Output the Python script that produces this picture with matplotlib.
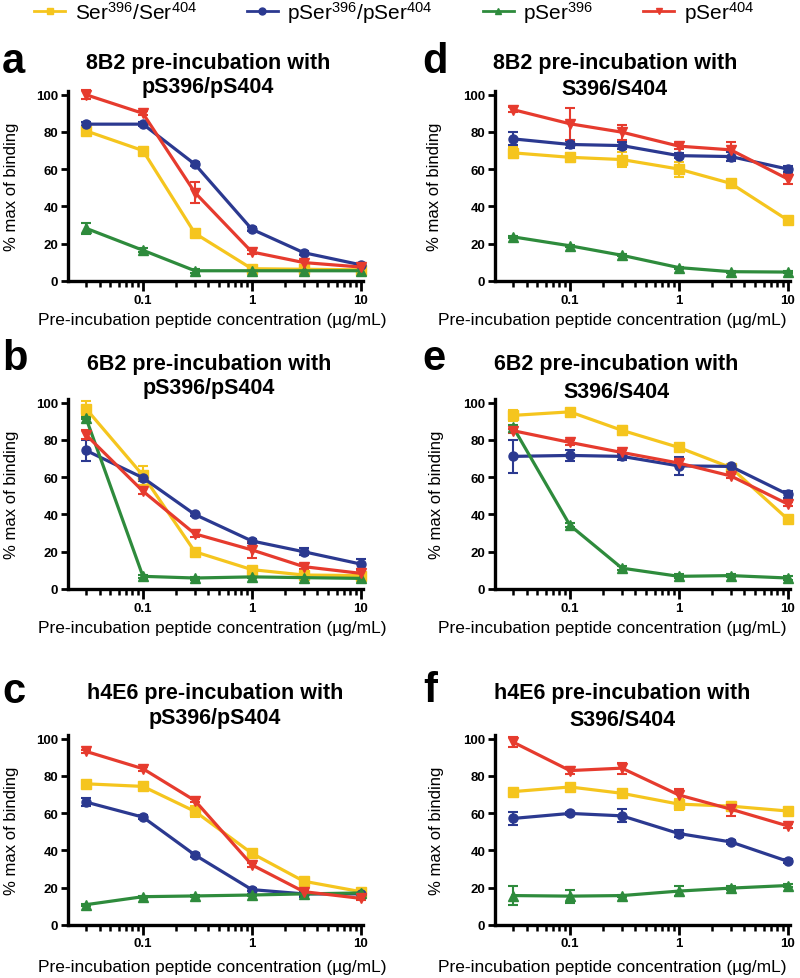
import matplotlib
matplotlib.use("Agg")
import matplotlib.pyplot as plt
from matplotlib.lines import Line2D
from matplotlib.ticker import LogLocator, FixedLocator, NullFormatter

plt.rcParams['font.family'] = ['Liberation Sans', 'DejaVu Sans']
plt.rcParams['mathtext.fontset'] = 'custom'
plt.rcParams['mathtext.rm'] = 'Liberation Sans'
plt.rcParams['mathtext.default'] = 'regular'

# peptide concentrations (ug/mL)
conc = [0.03, 0.1, 0.3, 1, 3, 10]

series_labels = ['Ser$^{396}$/Ser$^{404}$', 'pSer$^{396}$/pSer$^{404}$',
                 'pSer$^{396}$', 'pSer$^{404}$']
colors = ['#F5C51E', '#2B3990', '#2E8B3C', '#E63B2E']
markers = ['s', 'o', '^', 'v']

# a: 8B2 with pS396/pS404
a_ser = [80.6, 70.0, 25.6, 6.6, 6.3, 6.0]
a_ser_err = [1.5, 1.5, 1.5, 1, 1, 1]
a_pp = [84.2, 84.2, 62.7, 27.8, 15.2, 8.7]
a_pp_err = [1, 1, 1, 1, 1, 1]
a_p396 = [28.3, 16.5, 5.5, 5.5, 5.5, 5.5]
a_p396_err = [3, 1, 1, 1, 1, 1]
a_p404 = [100, 90, 47.5, 15.6, 9.9, 7.5]
a_p404_err = [2.5, 1, 5.5, 1, 1.5, 1]

# b: 6B2 with pS396/pS404
b_ser = [96.8, 61, 20, 10.4, 7.5, 7.2]
b_ser_err = [4, 5, 1, 1, 1, 1]
b_pp = [74.4, 59.7, 40, 25.8, 20, 13.4]
b_pp_err = [5.5, 1.5, 1, 1, 2, 2.5]
b_p396 = [91.8, 6.8, 5.9, 6.5, 6.1, 5.7]
b_p396_err = [0.8, 0.8, 0.8, 0.8, 0.8, 0.8]
b_p404 = [82.8, 52.5, 29.6, 21, 12, 8.4]
b_p404_err = [2.5, 1.5, 1.5, 4.5, 1.5, 1]

# c: h4E6 with pS396/pS404
c_ser = [75.8, 74.4, 61, 38.5, 23.5, 17.9]
c_ser_err = [1.5, 1.5, 3, 2, 1, 1]
c_pp = [66, 57.9, 37.6, 19, 16.7, 16.7]
c_pp_err = [2, 1, 1, 1, 1.5, 2]
c_p396 = [10.9, 15.2, 15.6, 16.1, 16.7, 17.2]
c_p396_err = [0.5, 0.5, 0.5, 0.5, 0.5, 0.5]
c_p404 = [93.2, 83.9, 66.8, 32.3, 17.9, 14.3]
c_p404_err = [1, 1, 1, 1, 1, 1]

# d: 8B2 with S396/S404
d_ser = [68.8, 66.4, 65.2, 60.1, 52.4, 32.7]
d_ser_err = [3, 2.5, 4, 4, 1.5, 1.5]
d_pp = [76.3, 73.3, 72.7, 67.3, 66.8, 60.1]
d_pp_err = [3.5, 2, 2, 1.5, 2.5, 1.5]
d_p396 = [23.7, 18.9, 13.8, 7.2, 5.0, 4.8]
d_p396_err = [0.5, 0.5, 0.5, 0.5, 0.5, 0.5]
d_p404 = [92, 84.4, 79.9, 72.4, 70.4, 54.8]
d_p404_err = [1.5, 8.5, 4, 1.5, 4, 2.5]

# e: 6B2 with S396/S404
e_ser = [93.2, 95.1, 85.2, 76, 65.2, 37.5]
e_ser_err = [3, 1.5, 2.5, 1.5, 1, 1.5]
e_pp = [71.2, 71.7, 71.2, 66.1, 65.8, 50.8]
e_pp_err = [9, 3, 2, 5, 1, 2]
e_p396 = [87, 34.2, 11.2, 6.8, 7.2, 5.9]
e_p396_err = [1, 1, 1, 1, 1, 1]
e_p404 = [85, 78.7, 73.3, 67.6, 60.7, 45.6]
e_p404_err = [1, 1.5, 1.5, 1.5, 1, 1]

# f: h4E6 with S396/S404
f_ser = [71.6, 74.1, 70.7, 64.9, 63.8, 61.2]
f_ser_err = [1, 1, 2, 3, 2, 1]
f_pp = [57.2, 59.9, 58.6, 49.1, 44.6, 34.2]
f_pp_err = [3.5, 1, 3.5, 2, 1, 1]
f_p396 = [15.8, 15.5, 15.8, 18.2, 19.8, 21.2]
f_p396_err = [5, 3.5, 0.5, 2.5, 1, 1]
f_p404 = [98.2, 82.9, 84.2, 69.8, 62.2, 53.2]
f_p404_err = [2.5, 2, 3, 3, 3.5, 1]

titles = {
    'a': ('8B2 pre-incubation with', 'pS396/pS404'),
    'b': ('6B2 pre-incubation with', 'pS396/pS404'),
    'c': ('h4E6 pre-incubation with', 'pS396/pS404'),
    'd': ('8B2 pre-incubation with', 'S396/S404'),
    'e': ('6B2 pre-incubation with', 'S396/S404'),
    'f': ('h4E6 pre-incubation with', 'S396/S404'),
}
panel_data = {
    'a': [(a_ser, a_ser_err), (a_pp, a_pp_err), (a_p396, a_p396_err), (a_p404, a_p404_err)],
    'b': [(b_ser, b_ser_err), (b_pp, b_pp_err), (b_p396, b_p396_err), (b_p404, b_p404_err)],
    'c': [(c_ser, c_ser_err), (c_pp, c_pp_err), (c_p396, c_p396_err), (c_p404, c_p404_err)],
    'd': [(d_ser, d_ser_err), (d_pp, d_pp_err), (d_p396, d_p396_err), (d_p404, d_p404_err)],
    'e': [(e_ser, e_ser_err), (e_pp, e_pp_err), (e_p396, e_p396_err), (e_p404, e_p404_err)],
    'f': [(f_ser, f_ser_err), (f_pp, f_pp_err), (f_p396, f_p396_err), (f_p404, f_p404_err)],
}

W, H = 800, 979
fig = plt.figure(figsize=(W / 100, H / 100), dpi=100)

# pixel layout of each panel
col_left = {'a': 68, 'b': 68, 'c': 68, 'd': 495, 'e': 495, 'f': 495}
row_bottom = {'a': 282, 'd': 282, 'b': 590, 'e': 590, 'c': 926, 'f': 926}
title_x = {'a': 208, 'b': 209, 'c': 215, 'd': 615, 'e': 616, 'f': 622}
title_base = {'a': (69, 93), 'd': (69, 95), 'b': (370, 394), 'e': (370, 398),
              'c': (699, 724), 'f': (699, 726)}
letter_pos = {'a': (2, 73), 'b': (2, 370), 'c': (2, 703),
              'd': (422, 73), 'e': (422, 370), 'f': (423, 702)}
xlabel_x = {'a': 212, 'b': 212, 'c': 212, 'd': 612, 'e': 612, 'f': 612}
xlabel_dy = {'a': 38, 'd': 38, 'b': 38, 'e': 38, 'c': 42, 'f': 42}
ylabel_x = {'a': 12, 'b': 12, 'c': 12, 'd': 435, 'e': 437, 'f': 437}
ax_w, ax_h = 295, 190

for key in ['a', 'b', 'c', 'd', 'e', 'f']:
    l = col_left[key]
    b = row_bottom[key]
    ax = fig.add_axes([l / W, 1 - b / H, ax_w / W, ax_h / H])
    for i, (vals, err) in enumerate(panel_data[key]):
        ax.errorbar(conc, vals, yerr=err, color=colors[i], marker=markers[i],
                    markersize=6.5, lw=2.3, elinewidth=1.5, capsize=3.5,
                    capthick=1.5, clip_on=False)
    ax.set_xscale('log')
    ax.set_xlim(0.0205, 10.5)
    ax.set_ylim(0, 102)
    ax.xaxis.set_major_locator(FixedLocator([0.1, 1, 10]))
    ax.set_xticklabels(['0.1', '1', '10'])
    ax.xaxis.set_minor_locator(LogLocator(base=10, subs=range(2, 10)))
    ax.xaxis.set_minor_formatter(NullFormatter())
    ax.set_yticks([0, 20, 40, 60, 80, 100])
    for s in ['top', 'right']:
        ax.spines[s].set_visible(False)
    for s in ['left', 'bottom']:
        ax.spines[s].set_linewidth(2.4)
    ax.tick_params(axis='both', which='major', width=2.0, length=5, labelsize=9.5, pad=2)
    ax.tick_params(axis='x', which='major', length=7)
    ax.tick_params(axis='x', which='minor', width=1.8, length=4.5)
    for lab in ax.get_xticklabels() + ax.get_yticklabels():
        lab.set_fontweight('bold')
    ax.set_xlabel('Pre-incubation peptide concentration (µg/mL)', fontsize=12.5, va='center')
    ax.xaxis.set_label_coords((xlabel_x[key] - l) / ax_w, -xlabel_dy[key] / ax_h)
    ax.set_ylabel('% max of binding', fontsize=12, va='center')
    ax.yaxis.set_label_coords((ylabel_x[key] - l) / ax_w, 0.5)

    t1, t2 = titles[key]
    fig.text(title_x[key] / W, 1 - title_base[key][0] / H, t1, ha='center',
             va='baseline', fontsize=15.5, fontweight='bold')
    fig.text(title_x[key] / W, 1 - title_base[key][1] / H, t2, ha='center',
             va='baseline', fontsize=15.5, fontweight='bold')
    lx, ly = letter_pos[key]
    fig.text(lx / W, 1 - ly / H, key, ha='left', va='baseline',
             fontsize=30, fontweight='bold')

handles = [Line2D([], [], color=colors[i], marker=markers[i], lw=2, markersize=5)
           for i in range(4)]
fig.legend(handles, series_labels, loc='upper center', bbox_to_anchor=(394 / W, 1.0),
           ncol=4, frameon=False, fontsize=15, handlelength=1.5, handletextpad=0.45,
           columnspacing=2.4, borderpad=0, borderaxespad=0)

fig.savefig('out.png', dpi=100)
